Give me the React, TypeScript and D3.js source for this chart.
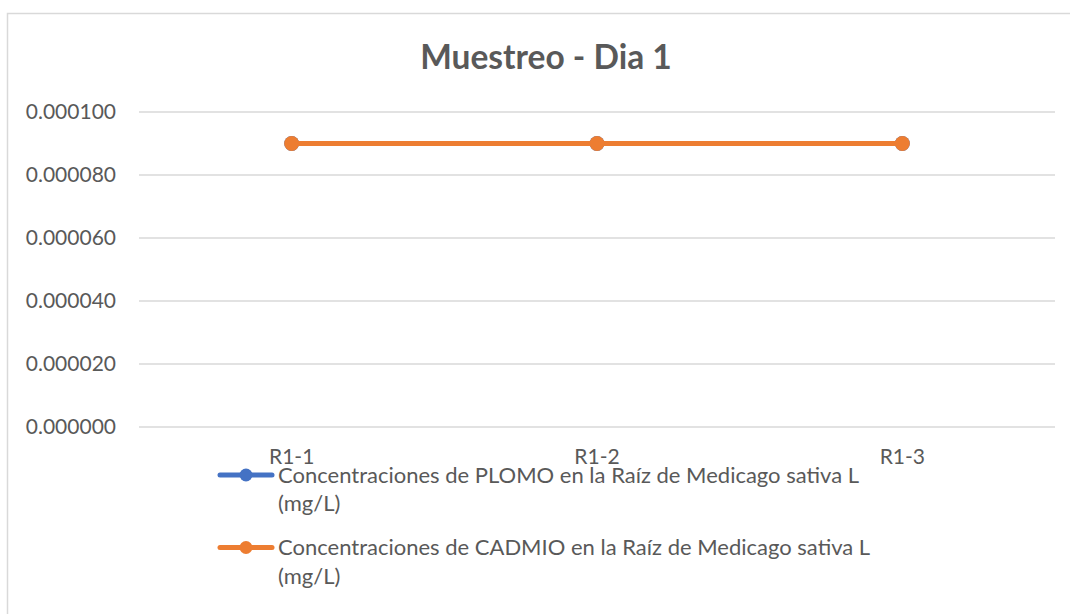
import React from 'react';
import * as d3 from 'd3';

const categories = ['R1-1', 'R1-2', 'R1-3'];
const plomo = [0.00009, 0.00009, 0.00009];
const cadmio = [0.00009, 0.00009, 0.00009];
const yTicks = [0, 0.00002, 0.00004, 0.00006, 0.00008, 0.0001];
const seriesNames = [
  ['Concentraciones de PLOMO en la Raíz de Medicago sativa L', '(mg/L)'],
  ['Concentraciones de CADMIO en la Raíz de Medicago sativa L', '(mg/L)'],
];
const seriesColors = ['#4472C4', '#ED7D31'];

const FONT = 'Lato, "Open Sans", sans-serif';

export default function App() {
  const width = 1070, height = 614;
  const left = 139, right = 1055, top = 112, bottom = 427;

  const x = d3.scaleBand<string>().domain(categories).range([left, right]);
  const y = d3.scaleLinear().domain([0, 0.0001]).range([bottom, top]);
  const cx = (i: number) => (x(categories[i]) as number) + x.bandwidth() / 2;
  const line = d3.line<number>().x((_, i) => cx(i)).y(d => y(d));

  const series = [plomo, cadmio];

  return (
    <svg width={width} height={height} style={{ position: 'absolute', left: 0, top: 0, fontFamily: FONT }}>
      <rect x={7.5} y={13.5} width={1080} height={620} fill="#fff" stroke="#d9d9d9" strokeWidth={1.5} />
      <text x={546} y={69} textAnchor="middle" fontSize={33.5} fontWeight="bold" fill="#595959">Muestreo - Dia 1</text>
      {yTicks.map(t => (
        <g key={t}>
          <line x1={left} x2={right} y1={y(t)} y2={y(t)} stroke="#d9d9d9" strokeWidth={1.4} />
          <text x={116} y={y(t) + 7} textAnchor="end" fontSize={21} fill="#595959">{d3.format('.6f')(t)}</text>
        </g>
      ))}
      {categories.map((c, i) => (
        <text key={c} x={cx(i)} y={464} textAnchor="middle" fontSize={21} fill="#595959">{c}</text>
      ))}
      {series.map((s, k) => (
        <g key={k}>
          <path d={line(s) || ''} fill="none" stroke={seriesColors[k]} strokeWidth={5} strokeLinecap="round" />
          {s.map((v, i) => (
            <circle key={i} cx={cx(i)} cy={y(v)} r={7.5} fill={seriesColors[k]} />
          ))}
        </g>
      ))}
      {seriesNames.map((n, k) => {
        const ly = 475 + k * 72.5;
        return (
          <g key={k}>
            <line x1={220} x2={272} y1={ly} y2={ly} stroke={seriesColors[k]} strokeWidth={5} strokeLinecap="round" />
            <circle cx={246} cy={ly} r={6.5} fill={seriesColors[k]} />
            <text x={278} y={ly + 7.5} fontSize={22} fill="#595959">{n[0]}</text>
            <text x={278} y={ly + 36} fontSize={22} fill="#595959">{n[1]}</text>
          </g>
        );
      })}
    </svg>
  );
}
